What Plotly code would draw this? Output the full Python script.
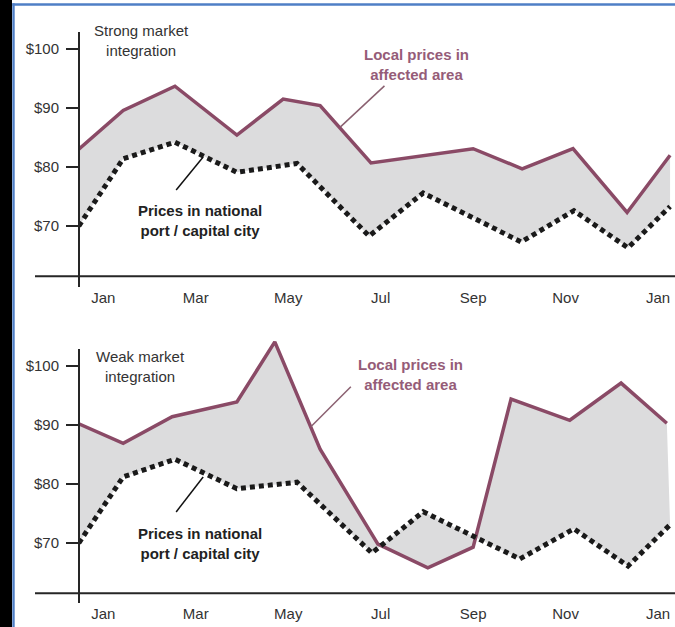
import plotly.graph_objects as go

# ---------------- data (x = month position, 0 = Jan) ----------------
tick_months = [0, 2, 4, 6, 8, 10, 12]
tick_labels = ["Jan", "Mar", "May", "Jul", "Sep", "Nov", "Jan"]
y_ticks = [70, 80, 90, 100]
y_tick_labels = ["$70", "$80", "$90", "$100"]

strong_local_x = [-0.53, 0.43, 1.55, 2.89, 3.89, 4.69, 5.79, 8.00, 9.06, 10.16, 11.33, 12.26]
strong_local_y = [83.0, 89.6, 93.7, 85.4, 91.5, 90.4, 80.7, 83.1, 79.7, 83.1, 72.3, 82.0]
strong_nat_x = [-0.53, 0.43, 1.55, 2.89, 4.19, 5.75, 6.92, 9.04, 10.18, 11.35, 12.26]
strong_nat_y = [70.0, 81.4, 84.2, 79.1, 80.6, 68.3, 75.6, 67.3, 72.6, 66.3, 73.3]

weak_local_x = [-0.53, 0.43, 1.49, 2.89, 3.71, 4.69, 5.94, 7.02, 8.00, 8.82, 10.09, 11.20, 12.19]
weak_local_y = [90.2, 86.9, 91.4, 93.9, 104.1, 85.9, 69.8, 65.8, 69.3, 94.4, 90.8, 97.1, 90.3]
weak_nat_x = [-0.53, 0.43, 1.55, 2.89, 4.19, 5.81, 6.92, 9.01, 10.18, 11.35, 12.26]
weak_nat_y = [70.0, 81.2, 84.2, 79.2, 80.3, 68.3, 75.3, 67.3, 72.4, 66.1, 73.1]

# ---------------- styling / layout helpers ----------------
W, H = 675, 627
L = 79
PX_PER_MONTH = 46.23
PX_PER_DOLLAR = 5.9
X0_PX = 103.3  # pixel of Jan
BASELINE = 61.5

LOCAL_COLOR = "#8a4a66"
LABEL_LOCAL = "#955c78"
FILL = "#dcdcdd"
INK = "#262626"
FONT = "Arial, Liberation Sans, sans-serif"
FS = 15

def m_of(px):
    return (px - X0_PX) / PX_PER_MONTH

def px_x(px):
    return (px - L) / (W - L)

def px_y(py):
    return 1 - py / H

xrange_ = [m_of(L), m_of(W)]

panels = [
    dict(p100=49, top=20, bot=287, ltop=32),
    dict(p100=366, top=330, bot=603, ltop=349),
]

fig = go.Figure()

series = [(strong_nat_x, strong_nat_y, strong_local_x, strong_local_y),
          (weak_nat_x, weak_nat_y, weak_local_x, weak_local_y)]

for i, (nx, ny, lx, ly) in enumerate(series):
    xa = "x" if i == 0 else "x2"
    ya = "y" if i == 0 else "y2"
    fig.add_trace(go.Scatter(x=nx, y=ny, mode="lines", xaxis=xa, yaxis=ya,
                             line=dict(color="rgba(0,0,0,0)", width=0),
                             hoverinfo="skip", showlegend=False))
    fig.add_trace(go.Scatter(x=lx, y=ly, mode="lines", xaxis=xa, yaxis=ya,
                             fill="tonexty", fillcolor=FILL,
                             line=dict(color=LOCAL_COLOR, width=3.5),
                             showlegend=False))
    fig.add_trace(go.Scatter(x=nx, y=ny, mode="lines", xaxis=xa, yaxis=ya,
                             line=dict(color="#1a1a1a", width=5, dash="5px,4px"),
                             showlegend=False))

layout = dict(
    width=W, height=H,
    margin=dict(l=L, r=0, t=0, b=0),
    paper_bgcolor="white", plot_bgcolor="rgba(0,0,0,0)",
    font=dict(family=FONT, size=FS, color="#333333"),
    showlegend=False,
)

shapes = []
annotations = []
for i, p in enumerate(panels):
    def v_of(py, p=p):
        return 100 - (py - p["p100"]) / PX_PER_DOLLAR
    yr = [v_of(p["bot"]), v_of(p["top"])]
    dom = [px_y(p["bot"]), px_y(p["top"])]
    xk = "xaxis" if i == 0 else "xaxis2"
    yk = "yaxis" if i == 0 else "yaxis2"
    yref = "y" if i == 0 else "y2"
    xref = "x" if i == 0 else "x2"
    layout[xk] = dict(domain=[0, 1], range=xrange_, anchor=yref,
                      showline=False, showgrid=False, zeroline=False, ticks="",
                      tickvals=tick_months, ticktext=tick_labels,
                      tickfont=dict(size=FS, color="#333333"))
    layout[yk] = dict(domain=dom, range=yr, anchor=xref,
                      showline=False, showgrid=False, zeroline=False,
                      ticks="outside", ticklen=12, tickwidth=2, tickcolor=INK,
                      ticklabelstandoff=4,
                      tickvals=y_ticks, ticktext=y_tick_labels,
                      tickfont=dict(size=FS, color="#333333"))
    shapes.append(dict(type="line", xref="paper", yref=yref,
                       x0=px_x(35), x1=1.0, y0=BASELINE, y1=BASELINE,
                       line=dict(color=INK, width=2)))
    shapes.append(dict(type="line", xref="paper", yref=yref,
                       x0=0, x1=0, y0=yr[0], y1=v_of(p["ltop"]),
                       line=dict(color=INK, width=2)))

labels = [
    (0, 0.83, 101.5, "Strong market<br>integration", "#333333", False),
    (0, 6.77, 97.3, "Local prices in<br>affected area", LABEL_LOCAL, True),
    (0, 2.09, 71.0, "Prices in national<br>port / capital city", "#222222", True),
    (1, 0.81, 100.0, "Weak market<br>integration", "#333333", False),
    (1, 6.65, 98.5, "Local prices in<br>affected area", LABEL_LOCAL, True),
    (1, 2.09, 70.0, "Prices in national<br>port / capital city", "#222222", True),
]
for i, x, y, t, c, b in labels:
    annotations.append(dict(xref="x" if i == 0 else "x2", yref="y" if i == 0 else "y2",
                            x=x, y=y, text=f"<b>{t}</b>" if b else t, showarrow=False,
                            font=dict(size=FS, color=c, family=FONT), align="center"))

pointers = [
    (0, 5.13, 86.8, 44, -41, "#8a6070"),
    (0, 2.16, 81.7, -27, 33, "#111111"),
    (1, 4.49, 89.7, 40, -40, "#8a6070"),
    (1, 2.16, 81.2, -27, 35, "#111111"),
]
for i, m, v, dx, dy, c in pointers:
    shapes.append(dict(type="line", xref="x" if i == 0 else "x2", yref="y" if i == 0 else "y2",
                       x0=m, y0=v, x1=m + dx / PX_PER_MONTH, y1=v - dy / PX_PER_DOLLAR,
                       line=dict(color=c, width=1.5)))

# frame: black strip, blue border lines
shapes.append(dict(type="rect", xref="paper", yref="paper", x0=px_x(0), x1=px_x(12),
                   y0=-0.01, y1=1.01, fillcolor="black", line=dict(width=0), layer="above"))
shapes.append(dict(type="rect", xref="paper", yref="paper", x0=px_x(12.3), x1=px_x(14.7),
                   y0=-0.01, y1=px_y(3.3), fillcolor="#4f7fc6", line=dict(width=0), layer="above"))
shapes.append(dict(type="rect", xref="paper", yref="paper", x0=px_x(12.3), x1=px_x(W) + 0.01,
                   y0=px_y(5.7), y1=px_y(3.3), fillcolor="#4f7fc6", line=dict(width=0), layer="above"))

layout["shapes"] = shapes
layout["annotations"] = annotations
fig.update_layout(**layout)
fig.write_html("out.html", config={"displayModeBar": False},
               post_script="document.body.style.margin='0';")
